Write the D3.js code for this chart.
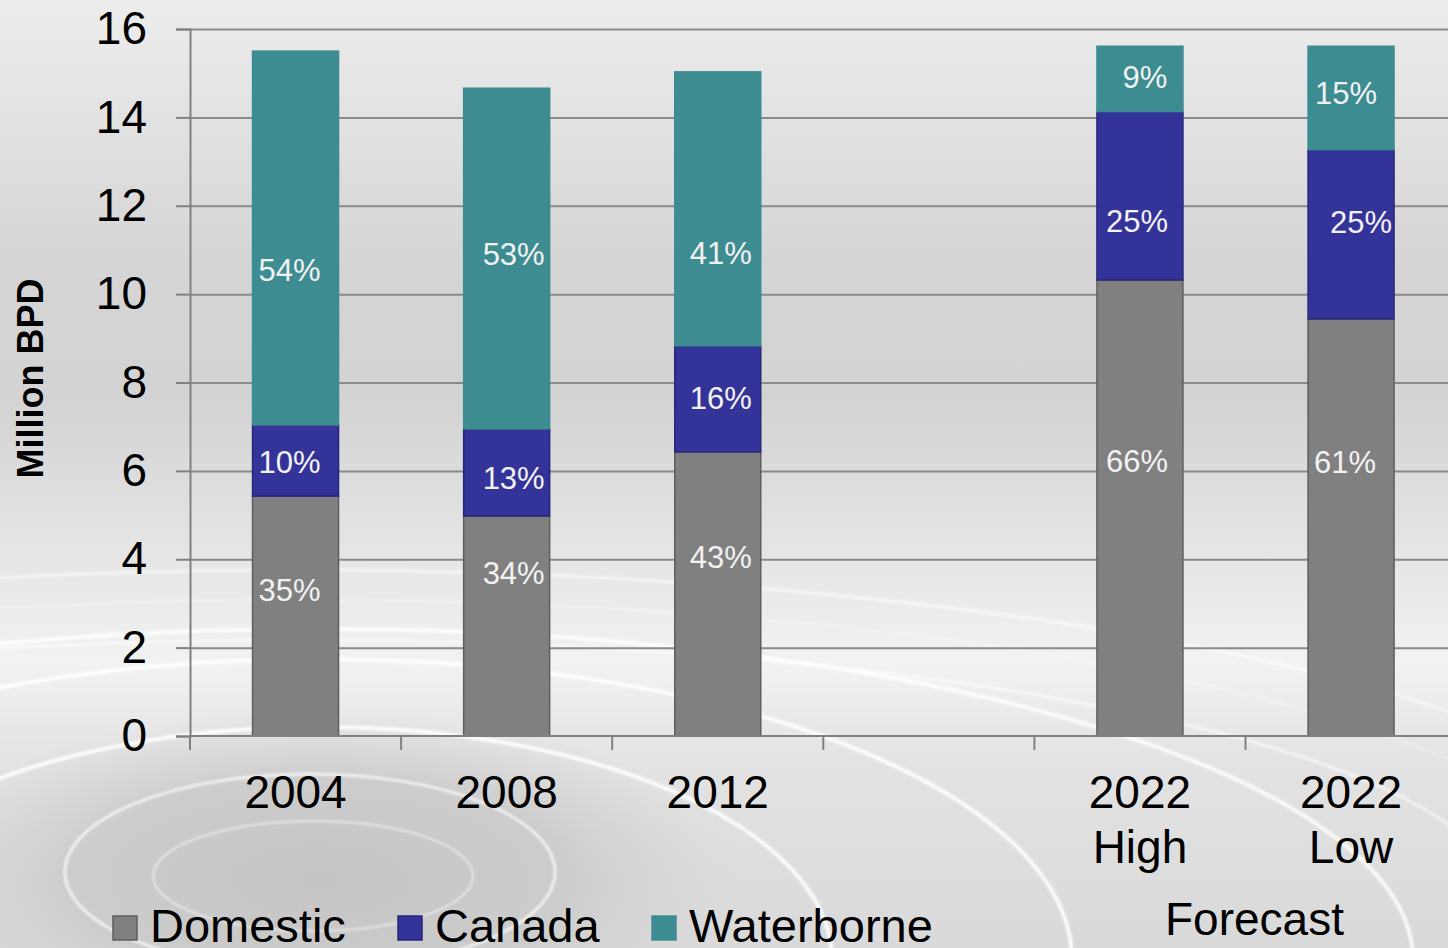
<!DOCTYPE html>
<html>
<head>
<meta charset="utf-8">
<script src="https://cdn.jsdelivr.net/npm/d3@7"></script>
<style>
  html, body { margin: 0; padding: 0; background: #e4e4e4; }
  svg { display: block; font-family: "Liberation Sans", Arial, sans-serif; }
</style>
</head>
<body>
<svg id="chart" width="1448" height="948"></svg>
<script>
// chart data
const categories = ["2004", "2008", "2012", "", "2022 High", "2022 Low"];
const tickLines = [["2004"], ["2008"], ["2012"], [], ["2022", "High"], ["2022", "Low"]];
const seriesNames = ["Domestic", "Canada", "Waterborne"];
const domestic = [5.43, 4.98, 6.43, null, 10.32, 9.44];
const canada = [1.61, 1.97, 2.40, null, 3.81, 3.83];
const waterborne = [8.46, 7.71, 6.20, null, 1.48, 2.34];
const domesticPct = ["35%", "34%", "43%", "", "66%", "61%"];
const canadaPct = ["10%", "13%", "16%", "", "25%", "25%"];
const waterbornePct = ["54%", "53%", "41%", "", "9%", "15%"];
const yTicks = [0, 2, 4, 6, 8, 10, 12, 14, 16];

// hand-placed label nudges (px) like in the original slide
const labelShift = {
  Domestic:   [[-6, -26], [7, -52], [3, -36], null, [-3, -46], [-6, -65]],
  Canada:     [[-6, 2], [7, 6], [3, 0], null, [-3, 26], [10, -12]],
  Waterborne: [[-6, 32], [7, -4], [3, 45], null, [5, -1], [-5, -4]]
};

const colors = { Domestic: "#808080", Canada: "#333399", Waterborne: "#3d8c92" };
const edges = { Domestic: "#5e5e5e", Canada: "#27277a", Waterborne: "#3d8c92" };

const svg = d3.select("#chart");
const W = 1448, H = 948;
const plotLeft = 190, plotBottom = 736, plotTop = 29;

// ---- background (slide artwork) ----
const defs = svg.append("defs");
const bg = defs.append("linearGradient").attr("id", "bg").attr("x1", 0).attr("y1", 0).attr("x2", 0).attr("y2", 1);
[[0, "#ededed"], [0.28, "#d5d5d5"], [0.42, "#d3d3d3"], [0.6, "#e7e7e7"], [0.7, "#f2f2f2"], [0.8, "#e3e3e3"], [1, "#d9d9d9"]]
  .forEach(s => bg.append("stop").attr("offset", s[0]).attr("stop-color", s[1]));
const rg = defs.append("radialGradient").attr("id", "pool");
rg.append("stop").attr("offset", 0).attr("stop-color", "#c6c4c5");
rg.append("stop").attr("offset", 0.6).attr("stop-color", "#cdcdcd");
rg.append("stop").attr("offset", 1).attr("stop-color", "#d6d6d6").attr("stop-opacity", 0);
const blur = defs.append("filter").attr("id", "soft");
blur.append("feGaussianBlur").attr("stdDeviation", 1.2);

svg.append("rect").attr("width", W).attr("height", H).attr("fill", "url(#bg)");
svg.append("ellipse").attr("cx", 320).attr("cy", 880).attr("rx", 420).attr("ry", 170).attr("fill", "url(#pool)");

const swirls = [
  [313, 876, 160, 55, 2, 0.55],
  [310, 872, 245, 98, 3, 0.7],
  [320, 960, 512, 233, 4, 0.9],
  [320, 960, 752, 301, 4, 0.9],
  [320, 960, 1093, 331, 4, 0.85],
  [300, 900, 1400, 330, 3, 0.6],
  [300, 900, 1200, 260, 3, 0.6],
  [300, 900, 1300, 300, 2, 0.35]
];
svg.append("g").attr("filter", "url(#soft)")
  .selectAll("ellipse").data(swirls).join("ellipse")
  .attr("cx", d => d[0]).attr("cy", d => d[1]).attr("rx", d => d[2]).attr("ry", d => d[3])
  .attr("fill", "none").attr("stroke", "#ffffff").attr("stroke-width", d => d[4]).attr("stroke-opacity", d => d[5]);

// ---- scales ----
const step = 211.1;
const x = d3.scaleBand().domain(categories).range([plotLeft, plotLeft + step * categories.length]).padding(0);
const barW = 86;
const y = d3.scaleLinear().domain([0, 16]).range([plotBottom, plotTop]);

// gridlines
svg.append("g")
  .attr("transform", `translate(${plotLeft},0)`)
  .call(d3.axisLeft(y).tickValues(yTicks.slice(1)).tickSize(-(W - plotLeft)).tickFormat(""))
  .call(g => g.select(".domain").remove())
  .call(g => g.selectAll("line").attr("stroke", "#8a8a8a").attr("stroke-width", 2));

// y axis
svg.append("g")
  .attr("transform", `translate(${plotLeft},0)`)
  .call(d3.axisLeft(y).tickValues(yTicks).tickSize(14).tickPadding(29))
  .call(g => g.select(".domain").attr("stroke", "#808080").attr("stroke-width", 2))
  .call(g => g.selectAll("line").attr("stroke", "#808080").attr("stroke-width", 2))
  .call(g => g.selectAll("text").attr("font-size", 46).attr("fill", "#000")
    .attr("font-family", "'Liberation Sans', Arial, sans-serif"));

// stacked bars
const table = categories.map((c, i) => ({
  cat: c, i: i,
  Domestic: domestic[i] || 0, Canada: canada[i] || 0, Waterborne: waterborne[i] || 0
})).filter(d => domestic[d.i] != null);
const stacked = d3.stack().keys(seriesNames)(table);
const pct = { Domestic: domesticPct, Canada: canadaPct, Waterborne: waterbornePct };

svg.append("g").selectAll("g").data(stacked).join("g")
  .attr("fill", s => colors[s.key]).attr("stroke", s => edges[s.key]).attr("stroke-width", 1.5)
  .selectAll("rect").data(s => s).join("rect")
  .attr("x", d => x(d.data.cat) + (x.bandwidth() - barW) / 2)
  .attr("width", barW)
  .attr("y", d => y(d[1]))
  .attr("height", d => y(d[0]) - y(d[1]));

// x axis line and ticks
svg.append("line").attr("x1", plotLeft).attr("x2", W).attr("y1", plotBottom).attr("y2", plotBottom)
  .attr("stroke", "#808080").attr("stroke-width", 2);
svg.append("g").selectAll("line").data(categories).join("line")
  .attr("x1", d => x(d)).attr("x2", d => x(d)).attr("y1", plotBottom).attr("y2", plotBottom + 14)
  .attr("stroke", "#808080").attr("stroke-width", 2);

// percent labels
stacked.forEach(s => {
  svg.append("g").selectAll("text").data(s).join("text")
    .attr("x", d => x(d.data.cat) + x.bandwidth() / 2 + labelShift[s.key][d.data.i][0])
    .attr("y", d => (y(d[0]) + y(d[1])) / 2 + labelShift[s.key][d.data.i][1])
    .attr("text-anchor", "middle").attr("dominant-baseline", "central")
    .attr("font-size", 31).attr("fill", "#f2f2f2")
    .text(d => pct[s.key][d.data.i]);
});

// category labels
const xl = svg.append("g").selectAll("text").data(categories).join("text")
  .attr("x", d => x(d) + x.bandwidth() / 2)
  .attr("y", 808)
  .attr("text-anchor", "middle").attr("font-size", 46).attr("fill", "#000");
xl.selectAll("tspan").data((d, i) => tickLines[i]).join("tspan")
  .attr("x", function () { return this.parentNode.getAttribute("x"); })
  .attr("dy", (d, j) => j === 0 ? 0 : 55)
  .text(d => d);

// forecast bracket text
svg.append("text")
  .attr("x", (x("2022 High") + x("2022 Low") + x.bandwidth()) / 2 + 9)
  .attr("y", 935).attr("text-anchor", "middle").attr("font-size", 46).attr("fill", "#000")
  .text("Forecast");

// y title
svg.append("text")
  .attr("transform", `translate(43,${(plotTop + plotBottom) / 2 - 4}) rotate(-90)`)
  .attr("text-anchor", "middle").attr("font-size", 36).attr("font-weight", "bold").attr("fill", "#000")
  .text("Million BPD");

// legend
const legendX = [113, 398, 652];
const lg = svg.append("g").selectAll("g").data(seriesNames).join("g")
  .attr("transform", (d, i) => `translate(${legendX[i]},916)`);
lg.append("rect").attr("width", 24).attr("height", 24)
  .attr("fill", d => colors[d]).attr("stroke", d => d === "Waterborne" ? "#3d8c92" : edges[d]).attr("stroke-width", 1.5);
lg.append("text").attr("x", 37).attr("y", 26).attr("font-size", 47).attr("fill", "#000").text(d => d);
</script>
</body>
</html>
